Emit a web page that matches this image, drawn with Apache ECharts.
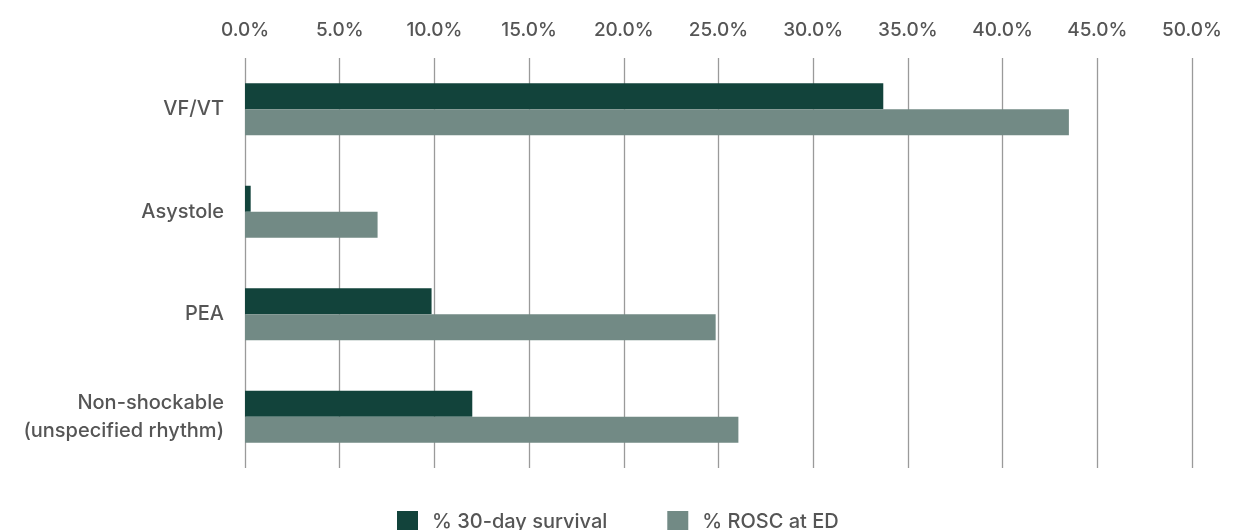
<!DOCTYPE html>
<html>
<head>
<meta charset="utf-8">
<script src="https://cdn.jsdelivr.net/npm/echarts@6/dist/echarts.min.js"></script>
<style>html,body{margin:0;padding:0;background:#fff}#c{width:1253px;height:530px}</style>
</head>
<body>
<div id="c"></div>
<script>
const categories = ["VF/VT", "Asystole", "PEA", "Non-shockable\n(unspecified rhythm)"];
const survival30 = [33.7, 0.3, 9.85, 12.0];
const roscED = [43.5, 7.0, 24.85, 26.05];
const seriesNames = ["% 30-day survival", "% ROSC at ED"];
const xTicks = { min: 0, max: 50, interval: 5 };

const chart = echarts.init(document.getElementById('c'));
const font = 'Inter, "Open Sans", sans-serif';
chart.setOption({
  animation: false,
  textStyle: { fontFamily: font },
  grid: { left: 245, right: 61, top: 58, bottom: 62 },
  legend: {
    top: 511, left: 397,
    itemWidth: 21, itemHeight: 21, itemGap: 60, padding: 0,
    icon: 'rect',
    textStyle: { fontSize: 20, color: '#555', fontWeight: 500, fontFamily: font, padding: [0, 0, 0, 9] },
    data: seriesNames
  },
  xAxis: {
    type: 'value', position: 'top',
    min: xTicks.min, max: xTicks.max, interval: xTicks.interval,
    axisLine: { show: false }, axisTick: { show: false },
    splitLine: { show: true, lineStyle: { color: '#9a9a9a', width: 1.3 } },
    axisLabel: { formatter: v => v.toFixed(1) + '%', fontSize: 19, fontWeight: 500, color: '#555', margin: 18, fontFamily: font }
  },
  yAxis: {
    type: 'category', inverse: true, data: categories,
    axisLine: { show: false }, axisTick: { show: false },
    axisLabel: { fontSize: 20, fontWeight: 500, color: '#555', margin: 21, lineHeight: 28, fontFamily: font }
  },
  series: [
    { name: seriesNames[0], type: 'bar', data: survival30, itemStyle: { color: '#12433b' }, barWidth: 26, barGap: '0%' },
    { name: seriesNames[1], type: 'bar', data: roscED, itemStyle: { color: '#728a85' }, barWidth: 26, barGap: '0%' }
  ]
});
</script>
</body>
</html>
